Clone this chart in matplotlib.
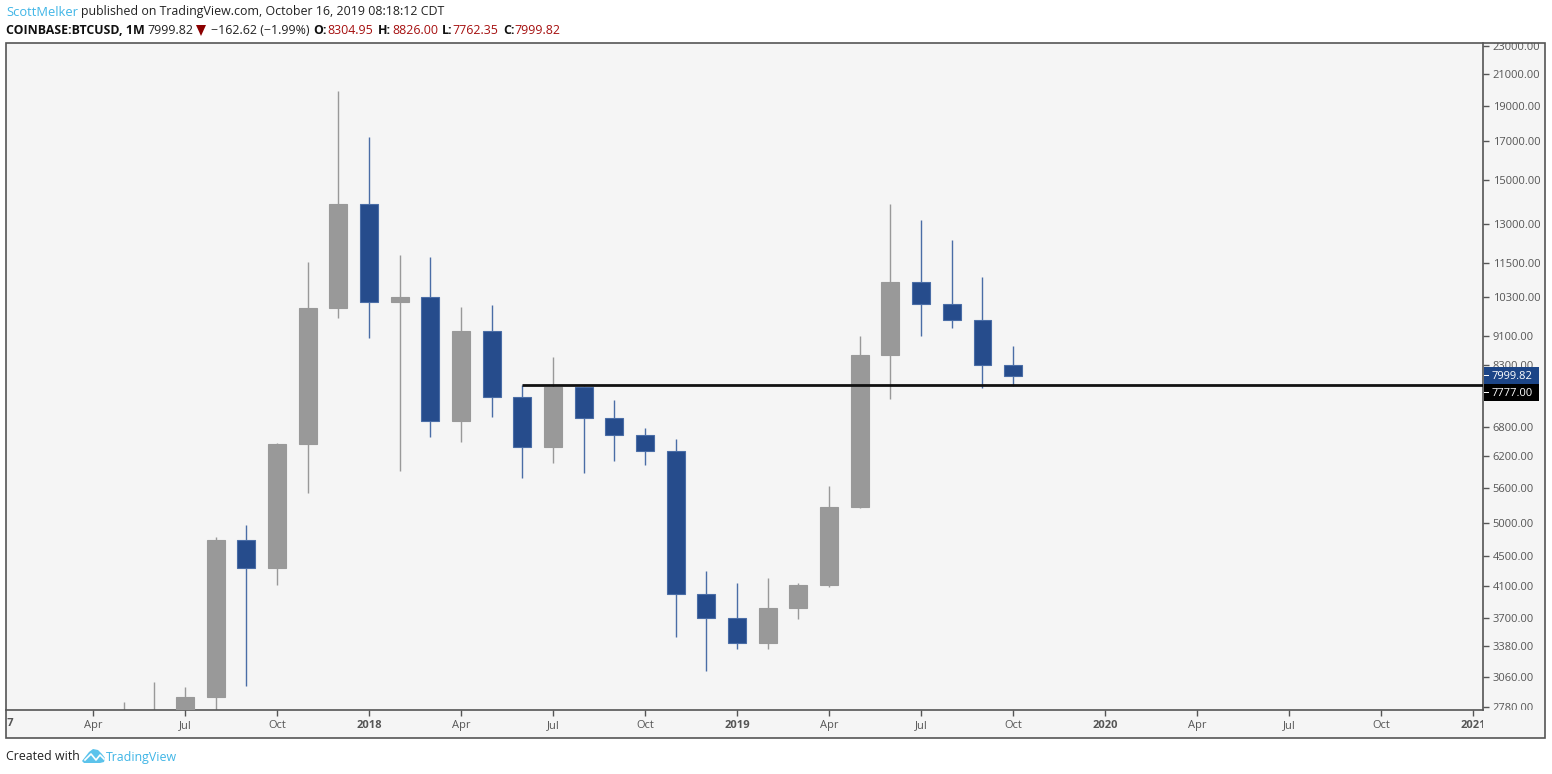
import matplotlib
matplotlib.use("Agg")
import matplotlib.pyplot as plt
from matplotlib.patches import Rectangle, Polygon
from matplotlib.transforms import Bbox

W, H = 1552, 774

# monthly candles, May 2017 -> Oct 2019
# month index: 0 = Jan 2018
months = list(range(-8, 22))
opens = [2280, 2420, 2500, 2875, 4738, 4338, 6451, 9947, 13880, 10150, 10300, 6928, 9245, 7500,
         6391, 7730, 7010, 6625, 6300, 3990, 3690, 3412, 3815, 4105, 5270, 8570, 10800, 10085, 9595, 8304.95]
highs = [2825, 3011, 2960, 4780, 4980, 6470, 11530, 19891, 17178, 11788, 11700, 9990, 10050, 7780,
         8520, 7750, 7410, 6780, 6550, 4300, 4130, 4200, 4130, 5640, 9100, 13880, 13200, 12370, 10990, 8826]
lows = [1900, 2200, 1840, 2600, 2972, 4110, 5507, 9650, 9050, 5920, 6600, 6485, 7035, 5774,
        6070, 5880, 6100, 6030, 3475, 3120, 3350, 3350, 3680, 4080, 5260, 7450, 9100, 9350, 7710, 7762.35]
closes = [2420, 2500, 2875, 4738, 4338, 6451, 9947, 13880, 10150, 10300, 6928, 9245, 7500, 6391,
          7730, 7010, 6625, 6300, 3990, 3690, 3412, 3815, 4105, 5270, 8570, 10800, 10085, 9595, 8304.95, 7999.82]

price_ticks = [2780, 3060, 3380, 3700, 4100, 4500, 5000, 5600, 6200, 6800, 8300, 9100, 10300,
               11500, 13000, 15000, 17000, 19000, 21000, 23000]
time_ticks = list(range(-9, 37, 3))
time_labels = ["Apr", "Jul", "Oct", "2018", "Apr", "Jul", "Oct", "2019", "Apr", "Jul", "Oct",
               "2020", "Apr", "Jul", "Oct", "2021"]
hline_price = 7777
last_price = 7999.82

GRAY = "#999999"
BLUE = "#264c8c"
BLUE_EDGE = "#4a6da6"
BG = "#f5f5f5"
EDGE = "#555555"
TXT = "#555555"
RED = "#a50f0f"
CYAN = "#3fb5e6"


def fx(x):
    return x / W


def fy(y):
    return 1 - y / H


plt.rcParams["font.family"] = "Open Sans"
fig = plt.figure(figsize=(W / 100, H / 100), dpi=100, facecolor="white")

# outer frame holding chart + both scales
fig.patches.append(Rectangle((fx(6), fy(737.5)), fx(1539), 694.5 / H, transform=fig.transFigure,
                             facecolor=BG, edgecolor=EDGE, linewidth=1.2, zorder=-1))

ax = fig.add_axes([fx(6), fy(710), fx(1477), 667 / H])
ax.patch.set_alpha(0)
ax.set_yscale("log")

for m, o, h, l, c in zip(months, opens, highs, lows, closes):
    up = c >= o
    ax.plot([m, m], [l, h], color=GRAY if up else BLUE_EDGE, lw=1, solid_capstyle="butt", zorder=2)
    ax.bar(m, abs(c - o), bottom=min(o, c), width=0.58, color=GRAY if up else BLUE,
           edgecolor=GRAY if up else BLUE_EDGE, lw=0.8, zorder=3)

ax.plot([5, 40], [hline_price, hline_price], color="#111111", lw=2, zorder=4, solid_capstyle="butt")

for s in ["left", "top"]:
    ax.spines[s].set_visible(False)
ax.spines["right"].set_color(EDGE)
ax.spines["bottom"].set_color(EDGE)
ax.spines["right"].set_linewidth(1.2)
ax.spines["bottom"].set_linewidth(1.2)

ax.minorticks_off()
ax.yaxis.tick_right()
ax.set_yticks(price_ticks)
ax.set_yticklabels([f"{p:.2f}" for p in price_ticks], fontsize=8, color=TXT)
ax.tick_params(axis="y", which="major", length=4, width=1, color=EDGE, pad=3)
ax.tick_params(axis="y", which="minor", length=0)
yclip = Bbox([[1483, H - 710], [1546, H - 43]])
for t in ax.get_yticklabels():
    t.set_clip_on(True)
    t.set_clip_box(yclip)

ax.set_xticks(time_ticks)
ax.set_xticklabels(time_labels, fontsize=8, color=TXT)
ax.tick_params(axis="x", length=4, width=1, color=EDGE, pad=3)
clip = Bbox([[6, 0], [1483, H]])
for t, lab in zip(ax.get_xticklabels(), time_labels):
    if lab.isdigit():
        t.set_fontweight("bold")
    t.set_clip_on(True)
    t.set_clip_box(clip)

# set_xticks widens the view, so limits go last
# Jan 2018 sits at pixel 369, one month is 30.67 px
ax.set_xlim((6 - 369) / 30.67, (1483 - 369) / 30.67)
ax.set_ylim(2754, 23221)

# 2017 label sits mostly left of the pane, only its last digit shows
first = ax.text(-12, -14 / 667, "2017", transform=ax.get_xaxis_transform(), ha="center", va="center",
                fontsize=8, fontweight="bold", color=TXT, clip_on=True)
first.set_clip_box(clip)

# price tags on the right scale, the black one is pushed below the blue one
for label, col, top in [(f"{last_price:.2f}", "#1c4587", 367), (f"{hline_price:.2f}", "#000000", 383.5)]:
    fig.patches.append(Rectangle((fx(1483.5), fy(top + 17)), fx(55.5), 17 / H, transform=fig.transFigure,
                                 facecolor=col, edgecolor="none", zorder=5))
    fig.text(fx(1492), fy(top + 9.5), label, color="white", fontsize=8, va="center", zorder=6)
    fig.patches.append(Rectangle((fx(1484), fy(top + 9)), fx(4.5), 1 / H, transform=fig.transFigure,
                                 facecolor="white", edgecolor="none", zorder=6))

# header
HDR = 8.9
fig.text(fx(6), fy(12), "ScottMelker", color=CYAN, fontsize=9.3, va="center")
fig.text(fx(81), fy(12), "published on TradingView.com, October 16, 2019 08:18:12 CDT", color="#222222",
         fontsize=HDR, va="center")
row2 = [(6, "COINBASE:BTCUSD, 1M", "#111111", "bold"), (147, "7999.82", "#222222", "normal"),
        (211, "\u2212162.62 (\u22121.99%)", "#222222", "normal"), (313, "O:", "#111111", "bold"),
        (327, "8304.95", RED, "normal"), (378, "H:", "#111111", "bold"), (392, "8826.00", RED, "normal"),
        (442, "L:", "#111111", "bold"), (452, "7762.35", RED, "normal"), (503, "C:", "#111111", "bold"),
        (514, "7999.82", RED, "normal")]
for x, s, col, w in row2:
    fig.text(fx(x), fy(30), s, color=col, fontsize=HDR, fontweight=w, va="center")
fig.patches.append(Polygon([(fx(196), fy(25)), (fx(206), fy(25)), (fx(201), fy(36))], closed=True,
                           transform=fig.transFigure, facecolor="#8b0000", edgecolor="none"))

# footer
fig.text(fx(6), fy(757), "Created with", color="#222222", fontsize=HDR, va="center")
fig.text(fx(106), fy(757), "TradingView", color=CYAN, fontsize=HDR, va="center")
logo = [(82, 761), (89, 752), (93, 749), (98, 750), (102, 754), (105, 758), (104, 762), (100, 763), (84, 763)]
fig.patches.append(Polygon([(fx(x), fy(y)) for x, y in logo], closed=True, transform=fig.transFigure,
                           facecolor="#5cc3eb", edgecolor="none"))
zigzag = [(85, 760), (91, 754), (96, 760), (100, 755), (104, 759)]
fig.add_artist(plt.Line2D([fx(x) for x, y in zigzag], [fy(y) for x, y in zigzag], color="white", lw=1.2,
                          transform=fig.transFigure))

fig.savefig("out.png", dpi=100)
